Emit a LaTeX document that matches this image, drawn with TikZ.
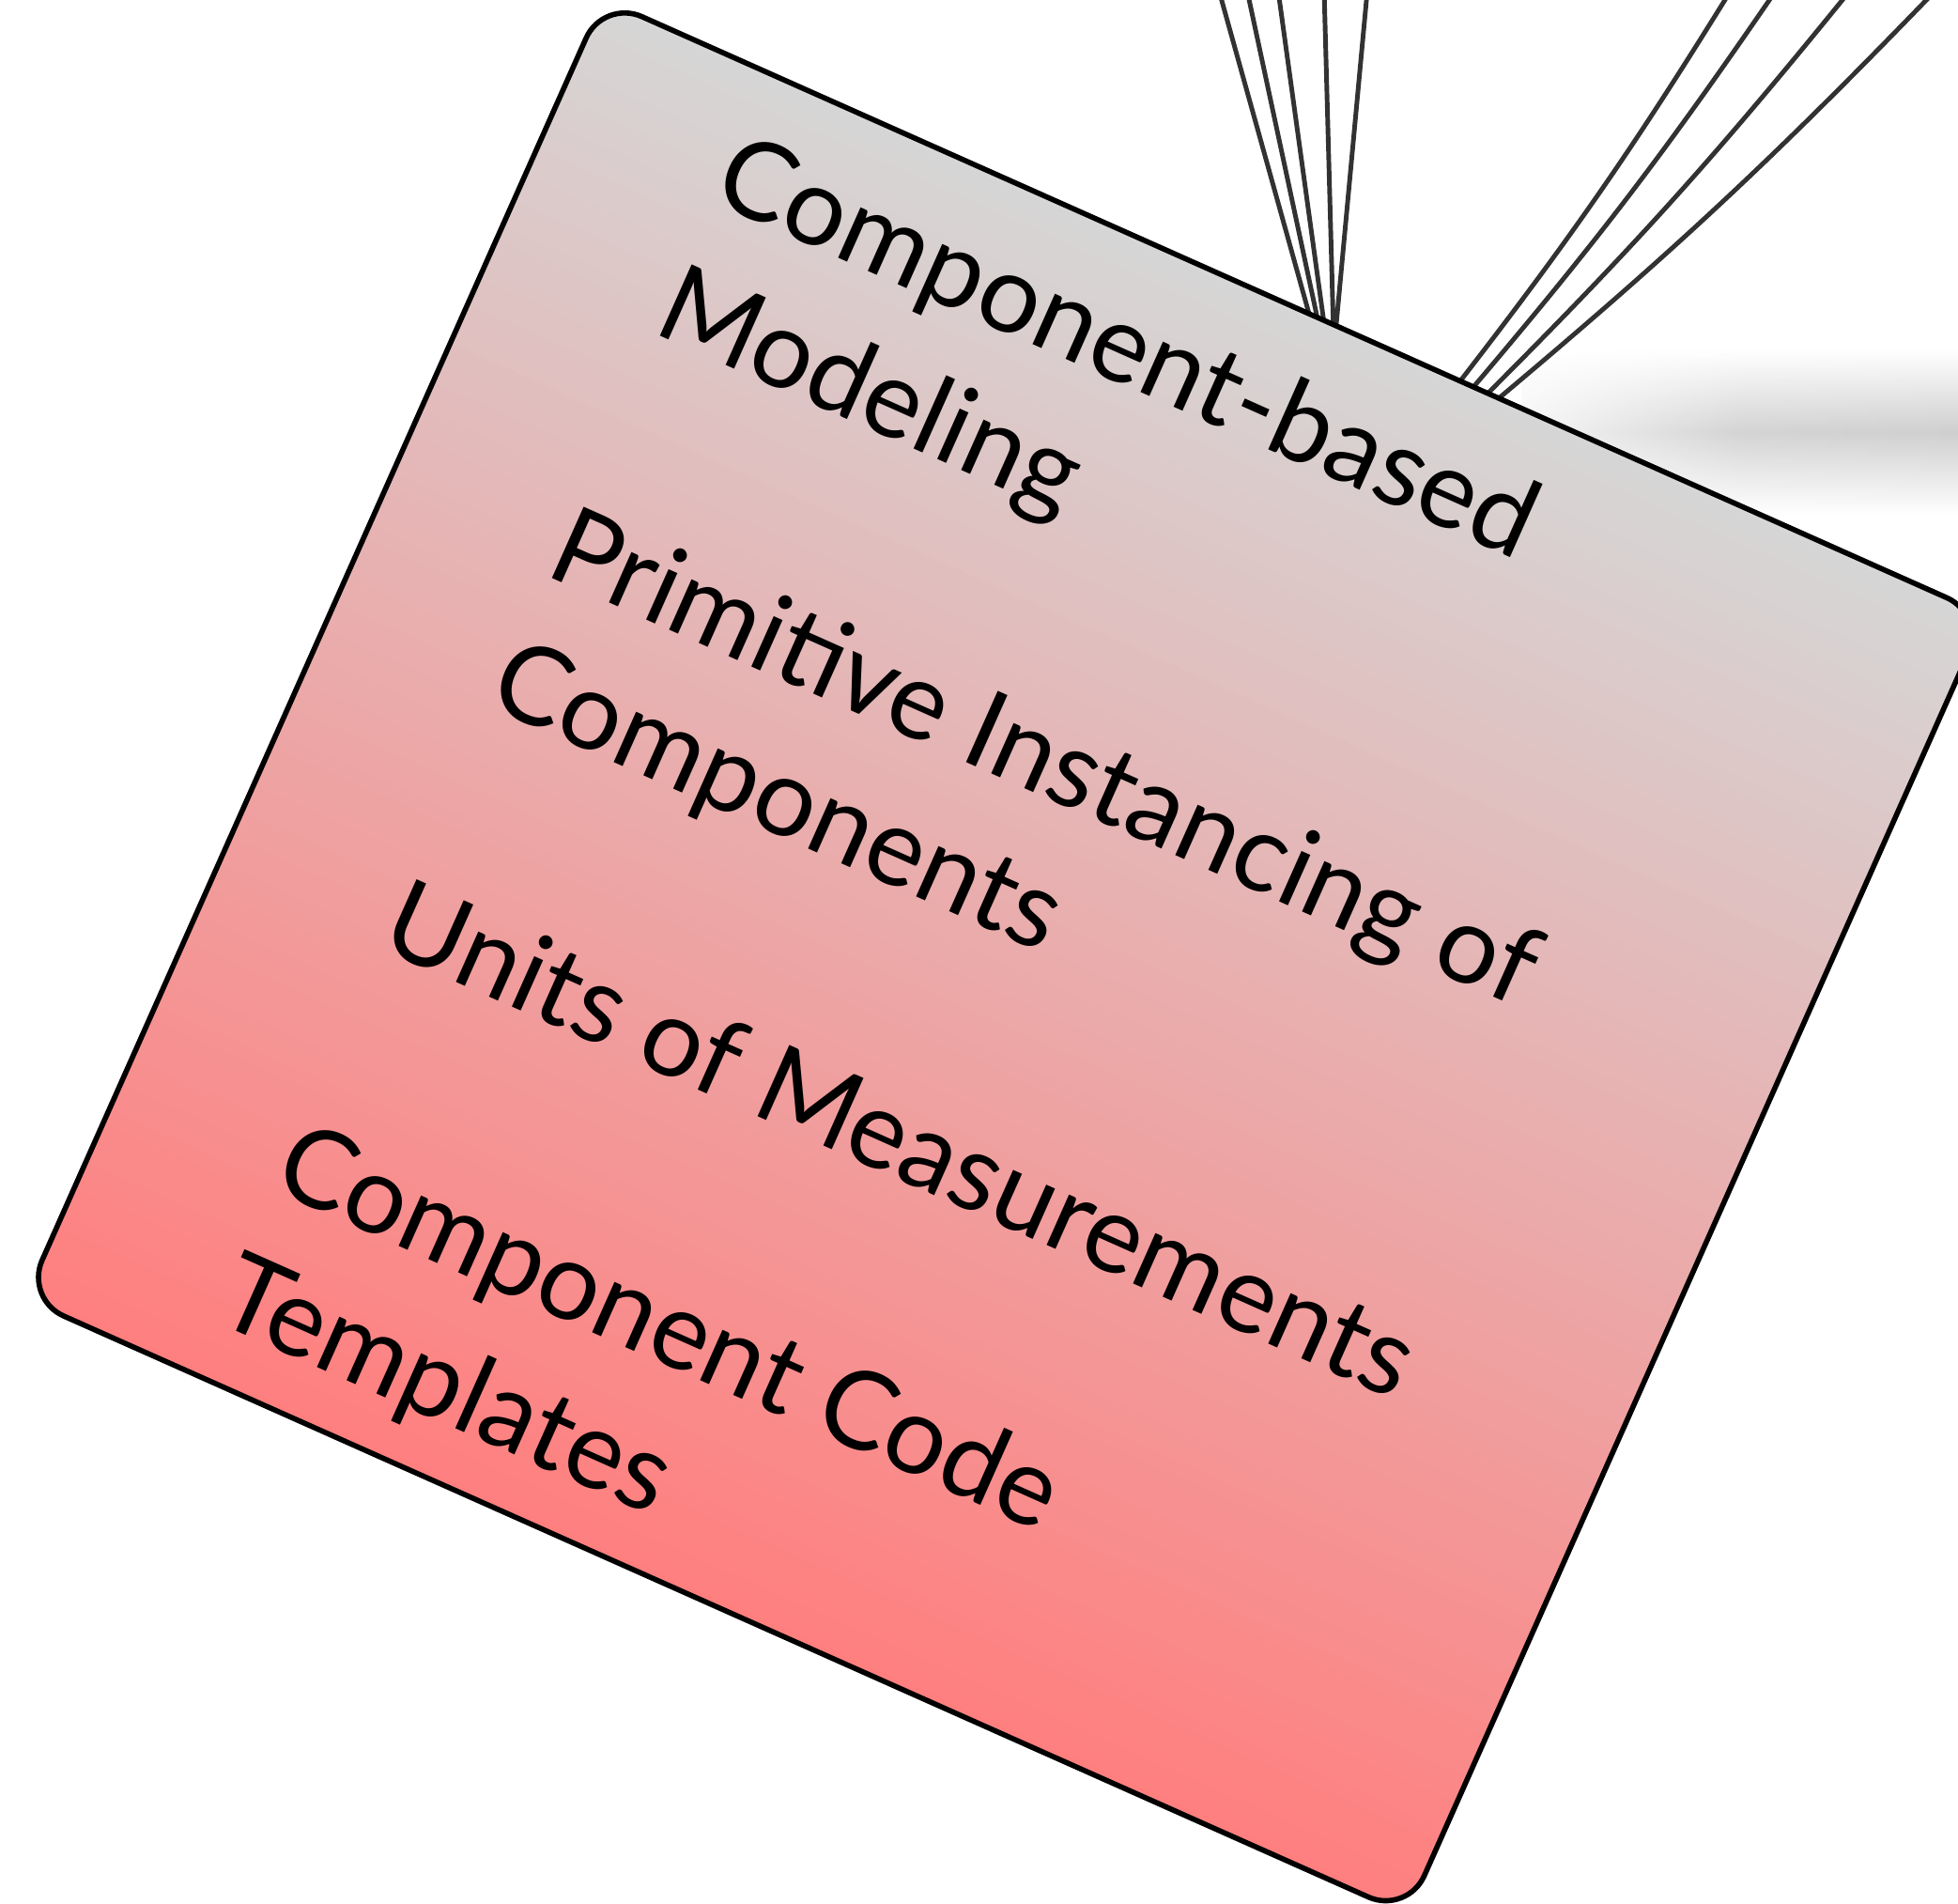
\documentclass[tikz,border=0pt]{standalone}
\usepackage{fontspec}
\setmainfont{Lato}
\usetikzlibrary{fadings}

\definecolor{cardtop}{RGB}{214,214,214}
\definecolor{cardbottom}{RGB}{255,127,127}
\definecolor{wirecol}{RGB}{50,50,50}

% horizontal fade for the soft shadow band on the right
\tikzfading[name=bandfade, left color=transparent!80, right color=transparent!0, middle color=transparent!10]

\begin{document}
\begin{tikzpicture}[
  wire/.style={draw=wirecol, line width=1.4pt},
  cardtext/.style={anchor=base west, inner sep=0pt, rotate=-24,
                   font=\fontsize{33}{40}\selectfont},
  cardedge/.style={draw=black, line width=1.6pt, rounded corners=0.45cm},
]
\useasboundingbox (0,0) rectangle (20.85,-20.26);
\clip (0,0) rectangle (20.85,-20.26);

% soft shadow band
\shade[path fading=bandfade, top color=white, bottom color=white, middle color=black!19]
  (16.2,-3.72) rectangle (20.85,-5.48);

% incoming wires, left bundle
\coordinate (t1) at (12.98,0.1);  \coordinate (b1) at (13.97,-3.45);
\coordinate (t2) at (13.28,0.1);  \coordinate (b2) at (14.05,-3.49);
\coordinate (t3) at (13.61,0.1);  \coordinate (b3) at (14.11,-3.52);
\coordinate (t4) at (14.10,0.1);  \coordinate (b4) at (14.20,-3.55);
\coordinate (t5) at (14.56,0.1);  \coordinate (b5) at (14.22,-3.55);
\foreach \i in {1,...,5} \draw[wire] (t\i) -- (b\i);

% incoming wires, right bundle
\coordinate (s1) at (18.43,0.1);  \coordinate (e1) at (15.50,-4.12);
\coordinate (s2) at (18.91,0.1);  \coordinate (e2) at (15.63,-4.19);
\coordinate (s3) at (19.70,0.1);  \coordinate (e3) at (15.77,-4.26);
\coordinate (s4) at (20.61,0.1);  \coordinate (e4) at (15.90,-4.29);
\foreach \i in {1,...,4} \draw[wire] (e\i) to[bend right=3] (s\i);

% the card, in its own tilted frame (units of 0.01cm, v pointing down)
\begin{scope}[rotate=-24, x=0.01cm, y=-0.01cm]
  % gradient fill: grey along the top edge to salmon along the bottom edge
  \begin{scope}
    \clip[rounded corners=0.45cm] (587,-262) rectangle (2199,1253);
    \foreach \k in {0,...,100}
      \fill[cardbottom!\k!cardtop] (570,{-270+15.15*\k}) rectangle (2220,{-254+15.15*\k});
  \end{scope}
  \path[cardedge] (587,-262) rectangle (2199,1253);
  \node[cardtext] (l1) at (777,-112) {Component-based};
  \node[cardtext] (l2) at (777,41)   {Modeling};
  \node[cardtext] (l3) at (777,323)  {Primitive Instancing of};
  \node[cardtext] (l4) at (777,476)  {Components};
  \node[cardtext] (l5) at (777,758)  {Units of Measurements};
  \node[cardtext] (l6) at (777,1040) {Component Code};
  \node[cardtext] (l7) at (777,1193) {Templates};
\end{scope}
\end{tikzpicture}
\end{document}
